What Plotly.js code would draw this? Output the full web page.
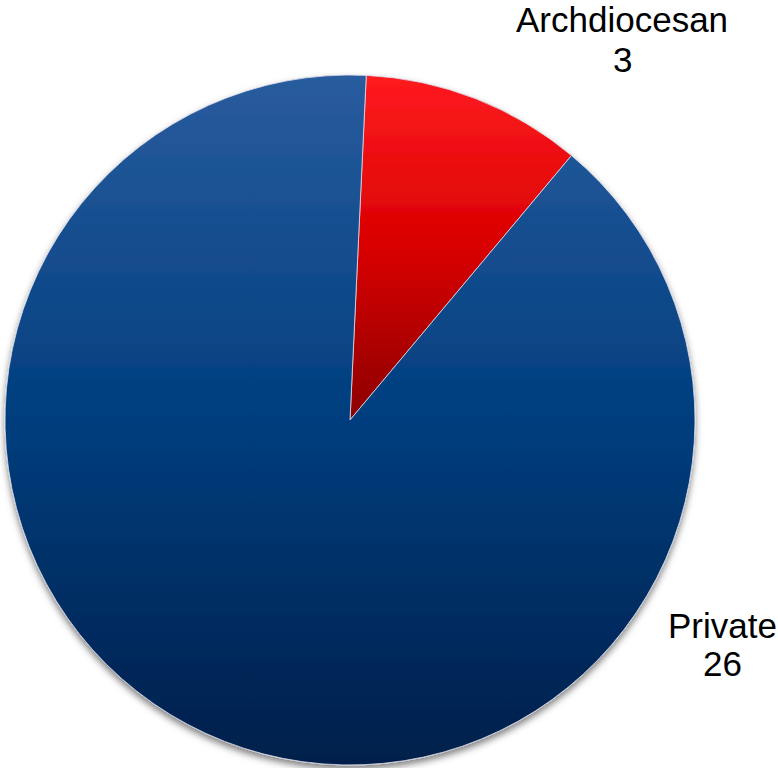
<!DOCTYPE html>
<html><head><meta charset="utf-8">
<script src="https://cdn.plot.ly/plotly-3.0.1.min.js"></script>
<style>html,body{margin:0;padding:0;background:#fff}</style>
</head><body><div id="chart" style="width:778px;height:768px"></div>
<script>
const categories = ['Archdiocesan', 'Private'];
const values = [3, 26];
const baseColors = ['#d40000', '#003f80'];
const gradientStops = [
  [['0', '#ff1b20'], ['0.5', '#d90000'], ['1', '#8c0000']],
  [['0', '#295c9e'], ['0.5', '#003e7e'], ['1', '#001f4b']]
];

const font = 'Liberation Sans, Arial, sans-serif';
const labelPos = [
  {x: 0.7995, yLabel: 0.974, yValue: 0.922},
  {x: 0.929, yLabel: 0.186, yValue: 0.1367}
];

const annotations = [];
categories.forEach((c, i) => {
  annotations.push({text: c, x: labelPos[i].x, y: labelPos[i].yLabel, xref: 'paper', yref: 'paper',
    xanchor: 'center', yanchor: 'middle', showarrow: false, font: {family: font, size: 35, color: '#000'}});
  annotations.push({text: String(values[i]), x: labelPos[i].x, y: labelPos[i].yValue, xref: 'paper', yref: 'paper',
    xanchor: 'center', yanchor: 'middle', showarrow: false, font: {family: font, size: 35, color: '#000'}});
});

const data = [{
  type: 'pie',
  labels: categories,
  values: values,
  sort: false,
  direction: 'clockwise',
  rotation: 2.7,
  textinfo: 'none',
  hoverinfo: 'skip',
  marker: {colors: baseColors, line: {color: 'rgba(220,220,235,0.8)', width: 1}},
  domain: {x: [5/778, 695/778], y: [3/768, 693/768]},
  showlegend: false
}];

const layout = {
  width: 778, height: 768,
  margin: {l: 0, r: 0, t: 0, b: 0},
  paper_bgcolor: '#fff', plot_bgcolor: '#fff',
  showlegend: false,
  annotations: annotations
};

Plotly.newPlot('chart', data, layout, {displayModeBar: false, staticPlot: true}).then(() => {
  const svg = document.querySelector('#chart svg.main-svg');
  const ns = 'http://www.w3.org/2000/svg';
  const defs = document.createElementNS(ns, 'defs');
  gradientStops.forEach((stops, i) => {
    const g = document.createElementNS(ns, 'linearGradient');
    g.setAttribute('id', 'sliceGrad' + i);
    g.setAttribute('x1', '0'); g.setAttribute('y1', '0');
    g.setAttribute('x2', '0'); g.setAttribute('y2', '1');
    stops.forEach(s => {
      const st = document.createElementNS(ns, 'stop');
      st.setAttribute('offset', s[0]);
      st.setAttribute('stop-color', s[1]);
      g.appendChild(st);
    });
    defs.appendChild(g);
  });
  const f = document.createElementNS(ns, 'filter');
  f.setAttribute('id', 'pieShadow');
  f.setAttribute('x', '-10%'); f.setAttribute('y', '-10%');
  f.setAttribute('width', '120%'); f.setAttribute('height', '125%');
  const ds = document.createElementNS(ns, 'feDropShadow');
  ds.setAttribute('dx', '0'); ds.setAttribute('dy', '4');
  ds.setAttribute('stdDeviation', '3.5');
  ds.setAttribute('flood-color', '#000'); ds.setAttribute('flood-opacity', '0.5');
  f.appendChild(ds);
  defs.appendChild(f);
  svg.insertBefore(defs, svg.firstChild);
  const slices = document.querySelectorAll('#chart g.slice');
  slices.forEach((s, i) => {
    const p = s.querySelector('path.surface');
    if (p) p.style.fill = 'url(#sliceGrad' + i + ')';
  });
  const tr = document.querySelector('#chart g.pielayer g.trace');
  if (tr) tr.setAttribute('filter', 'url(#pieShadow)');
});
</script>
</body></html>
